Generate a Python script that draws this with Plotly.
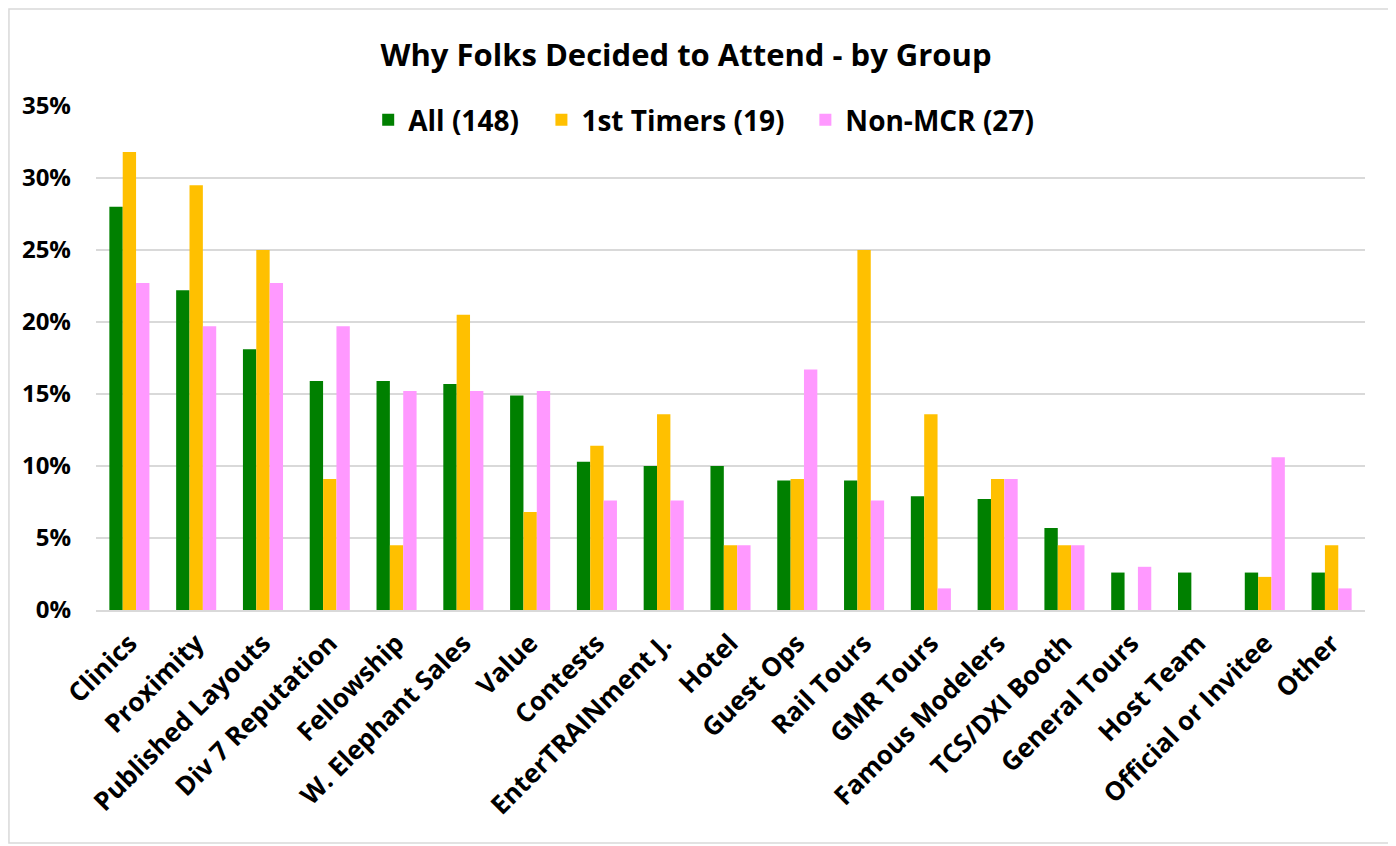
import plotly.graph_objects as go

# reasons, in chart order
categories = ["Clinics", "Proximity", "Published Layouts", "Div 7 Reputation", "Fellowship",
              "W. Elephant Sales", "Value", "Contests", "EnterTRAINment J.", "Hotel", "Guest Ops",
              "Rail Tours", "GMR Tours", "Famous Modelers", "TCS/DXI Booth", "General Tours",
              "Host Team", "Official or Invitee", "Other"]

# percent of responses per group
all_148 = [28.0, 22.2, 18.1, 15.9, 15.9, 15.7, 14.9, 10.3, 10.0, 10.0, 9.0,
           9.0, 7.9, 7.7, 5.7, 2.6, 2.6, 2.6, 2.6]
first_timers = [31.8, 29.5, 25.0, 9.1, 4.5, 20.5, 6.8, 11.4, 13.6, 4.5, 9.1,
                25.0, 13.6, 9.1, 4.5, 0, 0, 2.3, 4.5]
non_mcr = [22.7, 19.7, 22.7, 19.7, 15.2, 15.2, 15.2, 7.6, 7.6, 4.5, 16.7,
           7.6, 1.5, 9.1, 4.5, 3.0, 0, 10.6, 1.5]

series = [("All (148)", all_148, "#008000", "legend", 0.2145),
          ("1st Timers (19)", first_timers, "#FFC000", "legend2", 0.351),
          ("Non-MCR (27)", non_mcr, "#FF99FF", "legend3", 0.559)]

FONT = "'Open Sans', Lato, sans-serif"

fig = go.Figure()
for name, vals, color, leg, _ in series:
    fig.add_trace(go.Bar(x=categories, y=vals, name=name, marker_color=color,
                         marker_line_width=0, legend=leg, showlegend=True))

# one legend box per series so the entries sit where the original has them
legends = {}
for _, _, _, leg, lx in series:
    legends[leg] = dict(orientation="h", x=lx, xanchor="left", y=0.972, yanchor="middle",
                        font=dict(family=FONT, size=28, weight="bold"),
                        bgcolor="rgba(0,0,0,0)", itemwidth=30, visible=True)

# page body adds an 8px margin, so the figure is a bit smaller than the window
fig.update_layout(
    width=1388, height=838,
    showlegend=True,
    barmode="group", bargap=0.4, bargroupgap=0,
    plot_bgcolor="white", paper_bgcolor="white",
    margin=dict(l=88, r=31, t=98, b=236),
    font=dict(family=FONT, size=22, color="black", weight="bold"),
    title=dict(text="Why Folks Decided to Attend - by Group", x=0.4885, xanchor="center",
               y=0.944, yanchor="middle",
               font=dict(family=FONT, size=31, color="black", weight="bold")),
    xaxis=dict(tickangle=-45, showline=True, linecolor="#d9d9d9", linewidth=1.5,
               ticks="", automargin=False, ticklabelstandoff=6,
               tickfont=dict(size=26, weight="bold")),
    yaxis=dict(range=[0, 35], dtick=5, ticksuffix="%", showgrid=True, gridcolor="#d9d9d9",
               gridwidth=1.5, zeroline=False, showline=False, ticks="", automargin=False,
               ticklabelstandoff=24, tickfont=dict(size=24, weight="bold")),
    shapes=[dict(type="rect", xref="paper", yref="paper", x0=-0.0686, x1=1.0205,
                 y0=-0.4623, y1=1.1925, line=dict(color="#d9d9d9", width=1.5))],
    **legends,
)

fig.write_html("out.html")
